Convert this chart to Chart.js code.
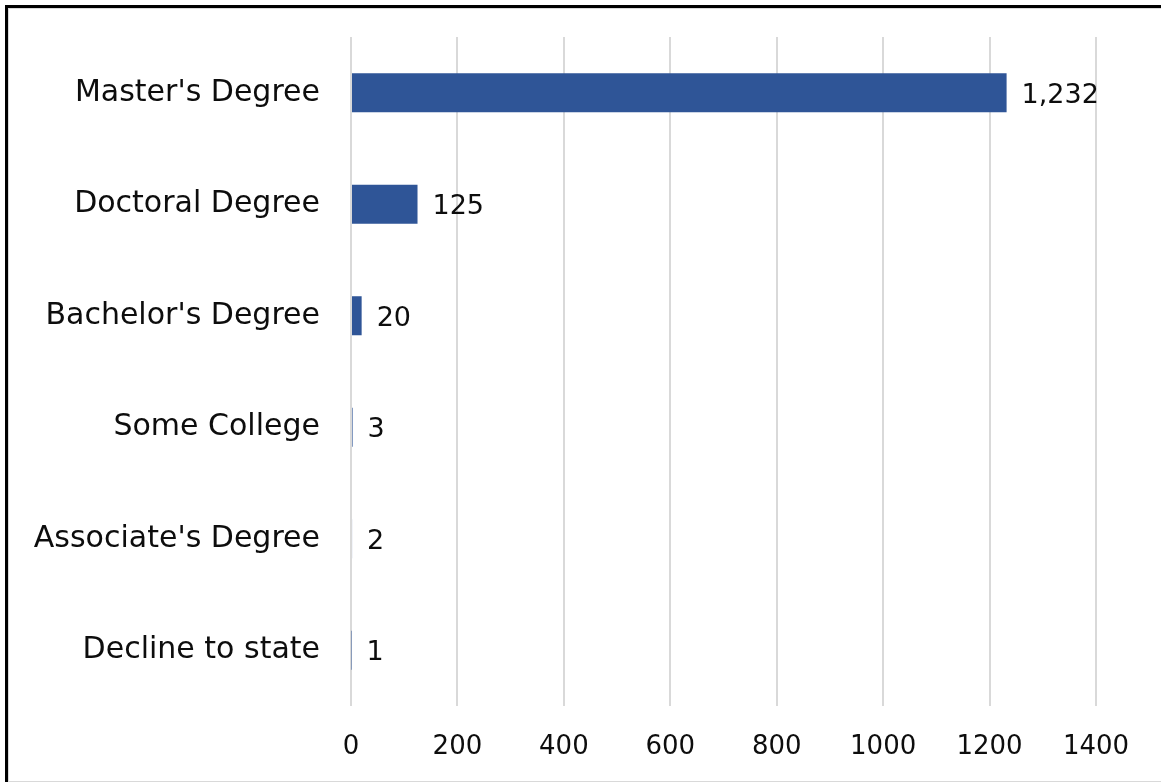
<!DOCTYPE html>
<html>
<head>
<meta charset="utf-8">
<script src="https://cdn.jsdelivr.net/npm/chart.js@4"></script>
<style>
  html, body { margin: 0; padding: 0; background: #fff; }
  #frame {
    position: absolute; left: 5px; top: 5px; width: 1156px; height: 777px;
    border-top: 3px solid #000; border-left: 3px solid #000; box-sizing: border-box;
  }
  #inner {
    position: absolute; left: 0; top: 0; right: 0; bottom: 0;
    border: 1px solid #d9d9d9; border-right: none;
  }
  #wrap { position: absolute; left: 0; top: 0; width: 1161px; height: 782px; }
</style>
</head>
<body>
<div id="frame"><div id="inner"></div></div>
<div id="wrap"><canvas id="c" width="1161" height="782"></canvas></div>
<script>
const categories = ["Master's Degree", "Doctoral Degree", "Bachelor's Degree", "Some College", "Associate's Degree", "Decline to state"];
const counts = [1232, 125, 20, 3, 2, 1];
const xTicks = [0, 200, 400, 600, 800, 1000, 1200, 1400];

const FONT = "'DejaVu Sans', sans-serif";
const FSIZE = 26;
const CAT_SIZE = 30;

const valueLabels = {
  id: 'valueLabels',
  afterDatasetsDraw(chart) {
    const ctx = chart.ctx;
    const meta = chart.getDatasetMeta(0);
    ctx.save();
    ctx.font = "27px " + FONT;
    ctx.fillStyle = '#0d0d0d';
    ctx.textAlign = 'left';
    ctx.textBaseline = 'middle';
    meta.data.forEach((bar, i) => {
      const v = chart.data.datasets[0].data[i];
      ctx.fillText(v.toLocaleString('en-US'), bar.x + 15, bar.y + 3);
    });
    ctx.restore();
  }
};

new Chart(document.getElementById('c'), {
  type: 'bar',
  data: {
    labels: categories,
    datasets: [{
      data: counts,
      backgroundColor: '#2f5597',
      borderWidth: 0,
      barPercentage: 0.7,
      categoryPercentage: 0.5
    }]
  },
  options: {
    indexAxis: 'y',
    responsive: false,
    animation: false,
    devicePixelRatio: 1,
    layout: { padding: { left: 0, right: 65, top: 37, bottom: 0 } },
    plugins: { legend: { display: false }, tooltip: { enabled: false } },
    scales: {
      x: {
        min: 0, max: 1400,
        afterBuildTicks: (s) => { s.ticks = xTicks.map(v => ({ value: v })); },
        grid: { color: '#d9d9d9', lineWidth: 2, drawTicks: false },
        border: { display: false },
        ticks: { color: '#0d0d0d', font: { family: FONT, size: FSIZE }, padding: 26, callback: (v) => String(v) },
        afterFit: (s) => { s.height = 76; }
      },
      y: {
        grid: { display: false, drawTicks: false },
        border: { display: false },
        ticks: { color: '#0d0d0d', font: { family: FONT, size: CAT_SIZE }, padding: 31 },
        afterFit: (s) => { s.width = 351; s.paddingTop = 0; s.paddingBottom = 0; }
      }
    }
  },
  plugins: [valueLabels]
});
</script>
</body>
</html>
